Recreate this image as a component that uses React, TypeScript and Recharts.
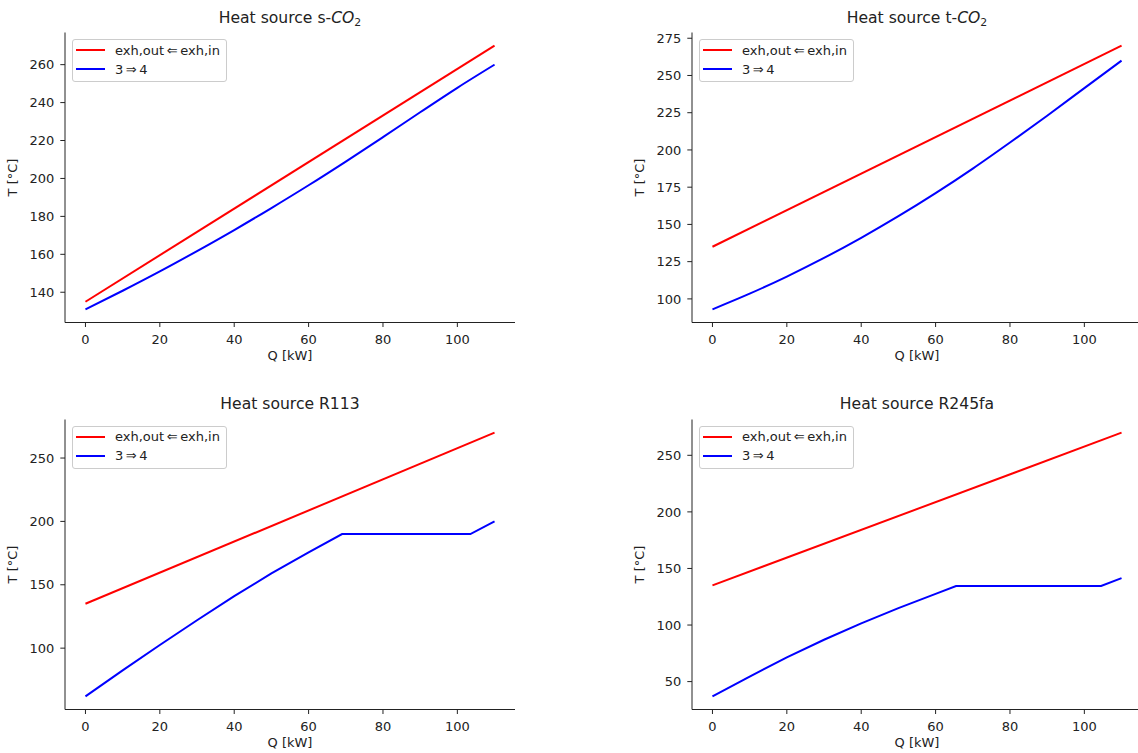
import React from "react";
import { LineChart, Line, XAxis, YAxis, Legend } from "recharts";

// heat exchanger T-Q profiles, one panel per working fluid
const qRed = [0, 110];
const tRed = [135, 270];

const qSCO2 = [0, 10, 20, 30, 40, 50, 60, 70, 80, 90, 100, 110];
const tSCO2 = [131, 140.8, 151, 161.7, 172.8, 184.4, 196.4, 208.9, 221.8, 234.9, 247.8, 260];

const qTCO2 = [0, 10, 20, 30, 40, 50, 60, 70, 80, 90, 100, 110];
const tTCO2 = [93, 103.5, 115, 127.5, 141, 155.5, 171, 187.5, 205, 223, 241.5, 260];

const qR113 = [0, 10, 20, 30, 40, 50, 60, 69, 103.5, 110];
const tR113 = [62, 82.5, 102.5, 122, 141, 159, 175.5, 190, 190, 200];

const qR245 = [0, 10, 20, 30, 40, 50, 60, 65.5, 104.5, 110];
const tR245 = [37, 54.5, 71.5, 87, 101.5, 115, 127.5, 134.5, 134.5, 141.5];

const xTicks = [0, 20, 40, 60, 80, 100];
const yTicksSCO2 = [140, 160, 180, 200, 220, 240, 260];
const yTicksTCO2 = [100, 125, 150, 175, 200, 225, 250, 275];
const yTicksR113 = [100, 150, 200, 250];
const yTicksR245 = [50, 100, 150, 200, 250];

const seriesNames = ["exh,out\u2009\u21D0\u2009exh,in", "3\u2009\u21D2\u20094"];

const FONT = "'DejaVu Sans', sans-serif";
const INK = "#222";
const PLOT_LEFT = 65;
const PLOT_TOP = 32.5;
const PLOT_W = 450;
const PLOT_H = 290;

const toPoints = (q: number[], t: number[]) => q.map((v, i) => ({ q: v, t: t[i] }));

const pad = (lo: number, hi: number) => {
  const m = (hi - lo) * 0.05;
  return [lo - m, hi + m];
};

const LegendBox = ({ payload }: any) => {
  const items = [...(payload || [])].sort(
    (a: any, b: any) => seriesNames.indexOf(a.value) - seriesNames.indexOf(b.value)
  );
  return (
    <div
      style={{
        boxSizing: "border-box",
        width: 155,
        height: 43,
        border: "1px solid #cccccc",
        borderRadius: 3,
        background: "rgba(255,255,255,0.8)",
        padding: "0.5px 0 0 3px",
        fontFamily: FONT,
      }}
    >
      {items.map((it: any) => (
        <div key={it.value} style={{ display: "flex", alignItems: "center", height: 19.3 }}>
          <span style={{ display: "inline-block", width: 29, height: 2, background: it.color, marginRight: 10 }} />
          <span style={{ fontSize: 13, lineHeight: "19.3px", color: INK, whiteSpace: "nowrap" }}>{it.value}</span>
        </div>
      ))}
    </div>
  );
};

interface PanelProps {
  title: React.ReactNode;
  q: number[];
  t: number[];
  yTicks: number[];
  curve: "monotone" | "linear";
  left: number;
  top: number;
}

const Panel = ({ title, q, t, yTicks, curve, left, top }: PanelProps) => {
  const all = [...t, ...tRed];
  const yDomain = pad(Math.min(...all), Math.max(...all));
  const xDomain = pad(0, 110);
  const midY = PLOT_TOP + PLOT_H / 2;

  return (
    <div style={{ position: "absolute", left, top, width: 520, height: 373 }}>
      <div
        style={{
          position: "absolute",
          left: PLOT_LEFT,
          top: 10.8,
          width: PLOT_W,
          textAlign: "center",
          fontSize: 15.6,
          lineHeight: 1,
          color: INK,
          whiteSpace: "nowrap",
          zIndex: 2,
        }}
      >
        {title}
      </div>
      <LineChart width={520} height={373} margin={{ top: PLOT_TOP, right: 5, bottom: 10.5, left: 0 }}>
        <XAxis
          type="number"
          dataKey="q"
          domain={xDomain}
          ticks={xTicks}
          interval={0}
          stroke={INK}
          tickSize={4.5}
          tickMargin={7.3}
          height={40}
          tick={{ fill: INK, fontSize: 13, fontFamily: FONT }}
          label={() => (
            <text
              x={PLOT_LEFT + PLOT_W / 2}
              y={PLOT_TOP + PLOT_H + 37}
              textAnchor="middle"
              fontSize={13}
              fontFamily={FONT}
              fill={INK}
            >
              Q [kW]
            </text>
          )}
        />
        <YAxis
          type="number"
          dataKey="t"
          domain={yDomain}
          ticks={yTicks}
          interval={0}
          width={PLOT_LEFT}
          stroke={INK}
          tickSize={4.7}
          tickMargin={6}
          tick={{ fill: INK, fontSize: 13, fontFamily: FONT }}
          label={() => (
            <text
              x={16.5}
              y={midY}
              transform={`rotate(-90 16.5 ${midY})`}
              textAnchor="middle"
              fontSize={13}
              fontFamily={FONT}
              fill={INK}
            >
              T [°C]
            </text>
          )}
        />
        <Legend
          layout="horizontal"
          verticalAlign="middle"
          align="center"
          content={<LegendBox />}
          wrapperStyle={{ left: PLOT_LEFT + 7, top: PLOT_TOP + 6.5, width: "auto", height: "auto" }}
        />
        <Line
          data={toPoints(qRed, tRed)}
          dataKey="t"
          name={seriesNames[0]}
          type="linear"
          stroke="#ff0000"
          strokeWidth={2}
          dot={false}
          isAnimationActive={false}
        />
        <Line
          data={toPoints(q, t)}
          dataKey="t"
          name={seriesNames[1]}
          type={curve}
          stroke="#0000ff"
          strokeWidth={2}
          dot={false}
          isAnimationActive={false}
        />
      </LineChart>
    </div>
  );
};

const CO2Title = ({ prefix }: { prefix: string }) => (
  <span>
    {prefix}
    <i>CO</i>
    <sub style={{ fontSize: "0.7em", verticalAlign: "-0.25em", lineHeight: 0 }}>2</sub>
  </span>
);

export default function App() {
  return (
    <div
      style={{
        position: "absolute",
        left: 0,
        top: 0,
        width: 1138,
        height: 753,
        overflow: "hidden",
        background: "#fff",
        fontFamily: FONT,
      }}
    >
      <Panel title={<CO2Title prefix="Heat source s-" />} q={qSCO2} t={tSCO2} yTicks={yTicksSCO2} curve="monotone" left={0} top={0} />
      <Panel title={<CO2Title prefix="Heat source t-" />} q={qTCO2} t={tTCO2} yTicks={yTicksTCO2} curve="monotone" left={627} top={0} />
      <Panel title="Heat source R113" q={qR113} t={tR113} yTicks={yTicksR113} curve="linear" left={0} top={386.5} />
      <Panel title="Heat source R245fa" q={qR245} t={tR245} yTicks={yTicksR245} curve="linear" left={627} top={386.5} />
    </div>
  );
}
